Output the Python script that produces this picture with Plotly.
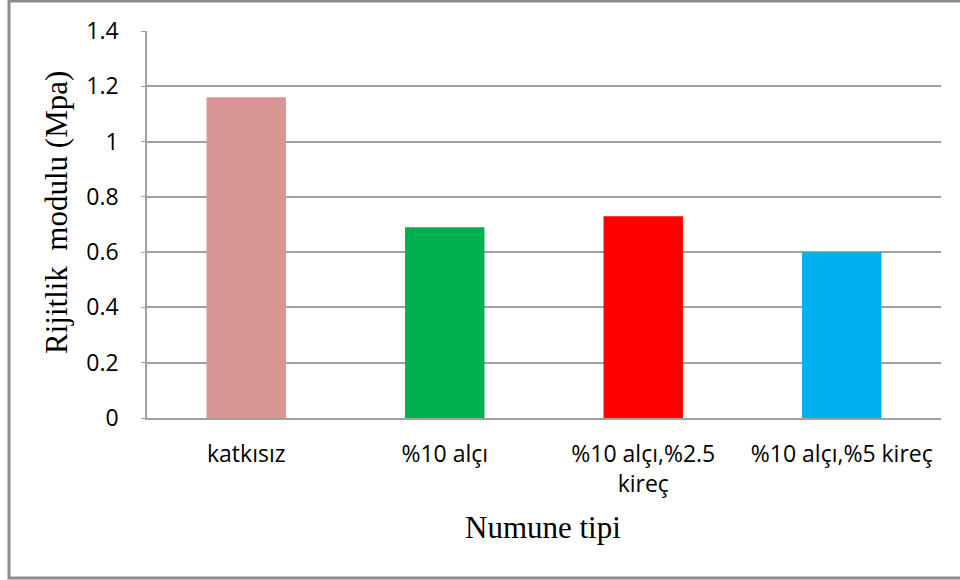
import plotly.graph_objects as go

# Sample types and their stiffness modulus (MPa)
categories = ["katkısız", "%10 alçı", "%10 alçı,%2.5<br>kireç", "%10 alçı,%5 kireç"]
values = [1.16, 0.69, 0.73, 0.60]
bar_colors = ["#D99594", "#00B050", "#FF0000", "#00B0F0"]
y_ticks = [0, 0.2, 0.4, 0.6, 0.8, 1.0, 1.2, 1.4]
y_tick_labels = ["0", "0.2", "0.4", "0.6", "0.8", "1", "1.2", "1.4"]

W, H = 960, 580
L, R, T, B = 147, 19, 31, 162

fig = go.Figure(
    go.Bar(
        x=categories,
        y=values,
        marker=dict(color=bar_colors, line=dict(width=0)),
        width=0.4,
    )
)

tick_font = dict(family="'Open Sans', Lato, sans-serif", size=23, color="#000000")

fig.update_layout(
    width=W,
    height=H,
    margin=dict(l=L, r=R, t=T, b=B),
    paper_bgcolor="white",
    plot_bgcolor="white",
    showlegend=False,
    xaxis=dict(
        type="category",
        showgrid=False,
        showline=True,
        linecolor="#A0A0A0",
        linewidth=1.5,
        ticks="",
        tickfont=tick_font,
        ticklabelstandoff=15,
    ),
    yaxis=dict(
        range=[0, 1.4],
        tickvals=y_ticks,
        ticktext=y_tick_labels,
        showgrid=True,
        gridcolor="#A0A0A0",
        gridwidth=1.5,
        showline=True,
        linecolor="#A0A0A0",
        linewidth=1.5,
        ticks="outside",
        ticklen=4,
        tickcolor="#A0A0A0",
        tickfont=tick_font,
        ticklabelstandoff=18,
        zeroline=False,
    ),
)

pw = W - L - R
ph = H - T - B


def px_x(x):
    return (x - L) / pw


def px_y(y):
    return (H - B - y) / ph


title_font = dict(family="'Liberation Serif', 'Times New Roman', serif", size=31, color="#000000")

fig.add_annotation(
    text="Rijitlik  modulu (Mpa)",
    x=px_x(56), y=px_y(213), xref="paper", yref="paper",
    textangle=-90, showarrow=False, font=title_font,
    xanchor="center", yanchor="middle",
)
fig.add_annotation(
    text="Numune tipi",
    x=px_x(543), y=px_y(527), xref="paper", yref="paper",
    showarrow=False, font=title_font,
    xanchor="center", yanchor="middle",
)

# Outer chart frame
fig.add_shape(
    type="rect", xref="paper", yref="paper",
    x0=px_x(9), x1=px_x(975), y0=px_y(578), y1=px_y(1),
    line=dict(color="#8C8C8C", width=3), fillcolor="rgba(0,0,0,0)",
    layer="below",
)

fig.write_html("out.html")
